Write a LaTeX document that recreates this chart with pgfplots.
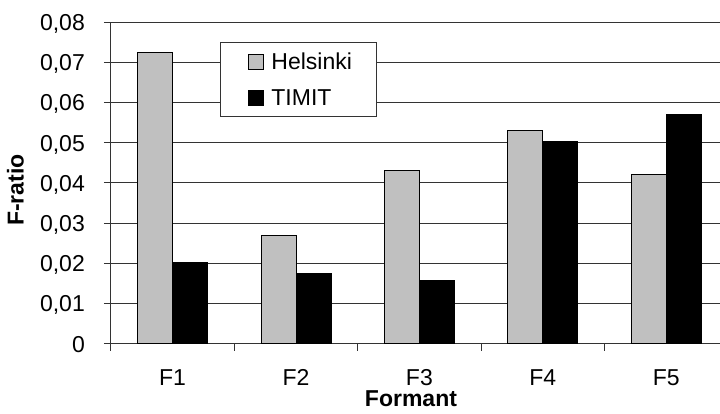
\documentclass[border=0pt]{standalone}
\usepackage{pgfplots}
\pgfplotsset{compat=1.18}
\usepackage{fontspec}
\setmainfont{Liberation Sans}
\newcommand{\fsz}{\fontsize{23bp}{27bp}\selectfont}
\definecolor{helgray}{HTML}{C0C0C0}

\begin{document}
\begin{tikzpicture}
\begin{axis}[
  scale only axis,
  width=609bp, height=321.7bp,
  xmin=0.5, xmax=5.435, ymin=0, ymax=0.08,
  ybar=0pt, bar width=35bp,
  axis lines*=left,
  axis line style={black!80, line width=1bp},
  ytick={0,0.01,0.02,0.03,0.04,0.05,0.06,0.07,0.08},
  yticklabels={{0},{0,01},{0,02},{0,03},{0,04},{0,05},{0,06},{0,07},{0,08}},
  scaled y ticks=false,
  ymajorgrids, grid style={black!80, line width=1bp},
  xtick={0.5,1.5,2.5,3.5,4.5},
  xticklabels={F1,F2,F3,F4,F5},
  tick align=outside, major tick length=7bp,
  tick style={black!80, line width=1bp},
  tick label style={font=\fsz},
  x tick label style={anchor=north, inner sep=0pt, xshift=61.6bp, yshift=-19bp},
  y tick label style={anchor=base east, inner sep=0pt, xshift=-19bp, yshift=-8.5bp},
  xlabel={Formant}, ylabel={F-ratio},
  label style={font=\fsz\bfseries},
  xlabel style={at={(axis description cs:0.4926,0)}, anchor=north, inner sep=0pt, yshift=-47bp},
  ylabel style={at={(axis description cs:-0.157,0.4778)}, anchor=center, inner sep=0pt},
  legend style={at={(axis description cs:0.179,0.9369)}, anchor=north west,
    draw=black!80, line width=1bp, font=\fsz,
    inner xsep=17bp, inner ysep=10bp, row sep=18.7bp,
    nodes={inner xsep=8bp, inner ysep=0pt}},
  legend cell align=left,
  legend image code/.code={\path (0bp,0bp); \draw[#1, line width=0.8bp] (10bp,-7.5bp) rectangle (25bp,7.5bp);},
]
\addplot[fill=helgray, draw=black, line width=1bp] coordinates {(1,0.0724) (2,0.0270) (3,0.0430) (4,0.0529) (5,0.0420)};
\addplot[fill=black, draw=black, line width=1bp] coordinates {(1,0.0201) (2,0.0175) (3,0.0157) (4,0.0502) (5,0.0569)};
\legend{Helsinki,TIMIT}
\end{axis}
\pgfresetboundingbox
\useasboundingbox (-111bp,-70.3bp) rectangle (609bp,343.7bp);
\end{tikzpicture}
\end{document}
